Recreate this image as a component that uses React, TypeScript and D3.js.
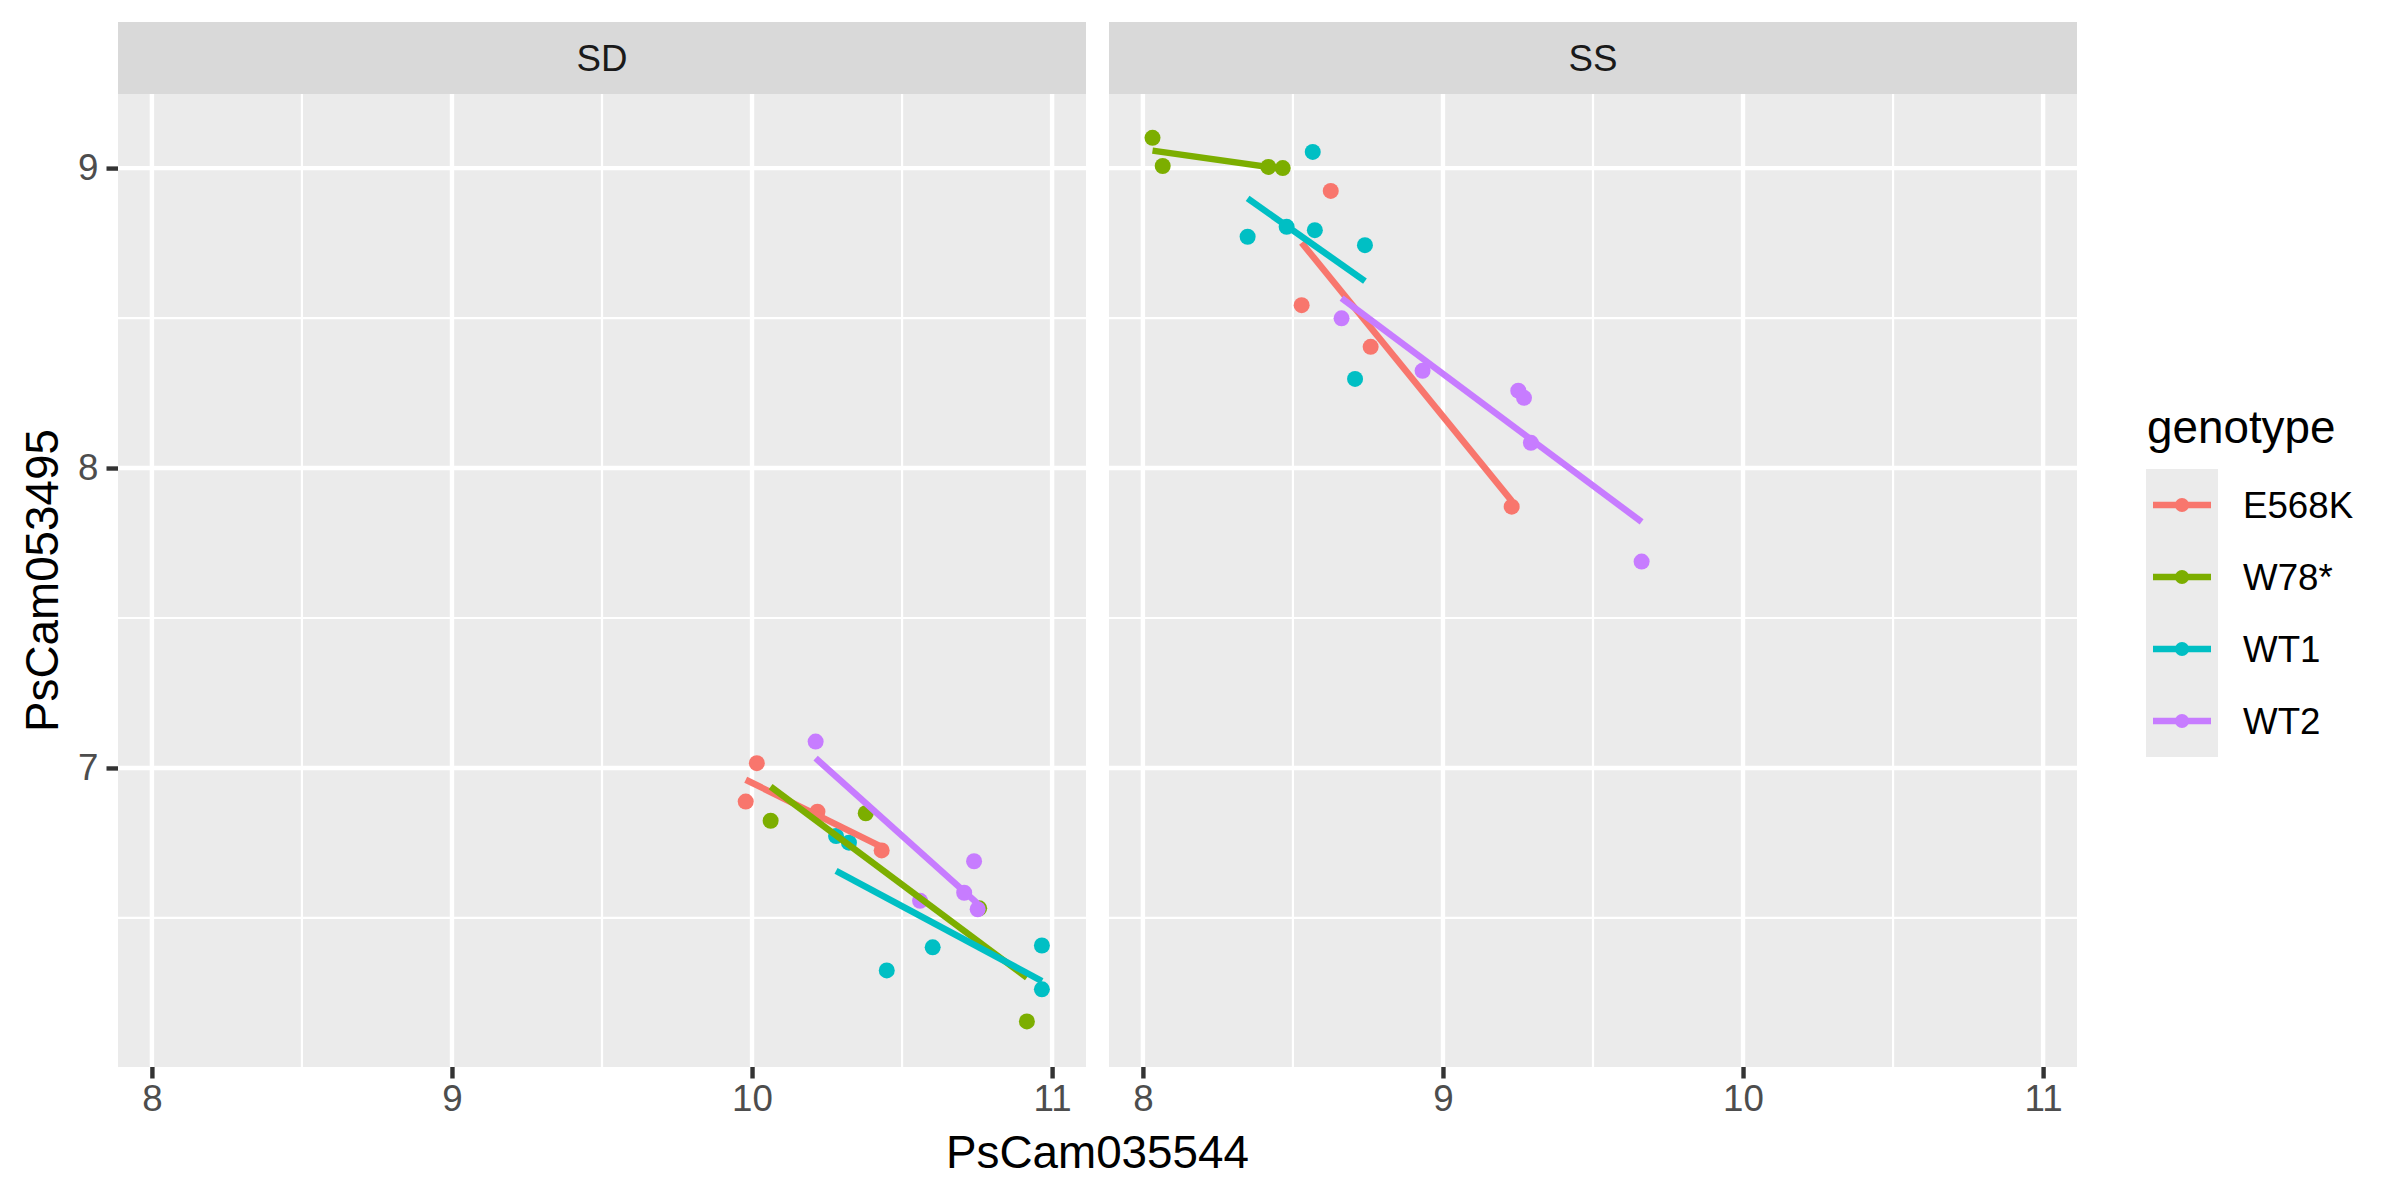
import React, { useEffect, useRef } from "react";
import * as d3 from "d3";

// genotype order and ggplot default hue palette
const genotypes = ["E568K", "W78*", "WT1", "WT2"];
const colors = ["#F8766D", "#7CAE00", "#00BFC4", "#C77CFF"];
const panels = ["SD", "SS"];

const xTicks = [8, 9, 10, 11];
const yTicks = [7, 8, 9];

// PsCam035544 / PsCam053495 pairs
const sdE568K = [[9.979, 6.888], [10.016, 7.016], [10.218, 6.854], [10.432, 6.725]];
const sdW78 = [[10.062, 6.824], [10.379, 6.849], [10.757, 6.532], [10.916, 6.155]];
const sdWT1 = [[10.28, 6.773], [10.323, 6.751], [10.449, 6.325], [10.602, 6.402], [10.966, 6.408], [10.966, 6.262]];
const sdWT2 = [[10.212, 7.088], [10.56, 6.557], [10.707, 6.584], [10.74, 6.689], [10.752, 6.529]];

const ssE568K = [[8.626, 8.924], [8.529, 8.543], [8.759, 8.404], [9.229, 7.871]];
const ssW78 = [[8.032, 9.101], [8.066, 9.007], [8.418, 9.004], [8.466, 9.0]];
const ssWT1 = [[8.566, 9.054], [8.349, 8.771], [8.479, 8.804], [8.573, 8.793], [8.74, 8.743], [8.707, 8.297]];
const ssWT2 = [[8.662, 8.499], [8.932, 8.324], [9.251, 8.258], [9.27, 8.234], [9.293, 8.084], [9.662, 7.688]];

interface IPoint {
  panel: string
  genotype: string
  x: number
  y: number
}

const groups: { [panel: string]: number[][][] } = {
  SD: [sdE568K, sdW78, sdWT1, sdWT2],
  SS: [ssE568K, ssW78, ssWT1, ssWT2],
};

const rows: IPoint[] = [];
panels.forEach(p => groups[p].forEach((pts, gi) => pts.forEach(([x, y]) => rows.push({ panel: p, genotype: genotypes[gi], x, y }))));

// least squares fit, like geom_smooth(method = "lm", se = FALSE)
const fit = (pts: IPoint[]) => {
  const mx = d3.mean(pts, d => d.x) as number;
  const my = d3.mean(pts, d => d.y) as number;
  const sxy = d3.sum(pts, d => (d.x - mx) * (d.y - my));
  const sxx = d3.sum(pts, d => (d.x - mx) * (d.x - mx));
  const b = sxy / sxx;
  const [x0, x1] = d3.extent(pts, d => d.x) as [number, number];
  return [[x0, my + b * (x0 - mx)], [x1, my + b * (x1 - mx)]];
};

const App: React.FC = () => {
  const ref = useRef<SVGSVGElement>(null);

  useEffect(() => {
    document.body.style.margin = "0";
    const svg = d3.select(ref.current);
    svg.selectAll("*").remove();

    const font = "Liberation Sans, Arial, sans-serif";
    const panelW = 968, top = 94, bottom = 1067, stripTop = 22;
    const lefts = [118, 1109];
    const color = d3.scaleOrdinal<string, string>().domain(genotypes).range(colors);

    const y = d3.scaleLinear().domain([6.003, 9.247]).range([bottom, top]);

    panels.forEach((p, pi) => {
      const left = lefts[pi];
      const x = d3.scaleLinear().domain([7.887, 11.113]).range([left, left + panelW]);
      const g = svg.append("g");

      // strip
      g.append("rect").attr("x", left).attr("y", stripTop).attr("width", panelW).attr("height", top - stripTop).attr("fill", "#D9D9D9");
      g.append("text").attr("x", left + panelW / 2).attr("y", (stripTop + top) / 2)
        .attr("text-anchor", "middle").attr("dominant-baseline", "central")
        .style("font-family", font).style("font-size", "36.7px").attr("fill", "#1A1A1A").text(p);

      g.append("rect").attr("x", left).attr("y", top).attr("width", panelW).attr("height", bottom - top).attr("fill", "#EBEBEB");

      // minor grid
      const xMinor = xTicks.slice(0, -1).map(v => v + 0.5);
      const yMinor = [6.5, 7.5, 8.5];
      g.selectAll(".xminor").data(xMinor).enter().append("line")
        .attr("x1", d => x(d)).attr("x2", d => x(d)).attr("y1", top).attr("y2", bottom)
        .attr("stroke", "#fff").attr("stroke-width", 2.2);
      g.selectAll(".yminor").data(yMinor).enter().append("line")
        .attr("x1", left).attr("x2", left + panelW).attr("y1", d => y(d)).attr("y2", d => y(d))
        .attr("stroke", "#fff").attr("stroke-width", 2.2);
      // major grid
      g.selectAll(".xmajor").data(xTicks).enter().append("line")
        .attr("x1", d => x(d)).attr("x2", d => x(d)).attr("y1", top).attr("y2", bottom)
        .attr("stroke", "#fff").attr("stroke-width", 4.4);
      g.selectAll(".ymajor").data(yTicks).enter().append("line")
        .attr("x1", left).attr("x2", left + panelW).attr("y1", d => y(d)).attr("y2", d => y(d))
        .attr("stroke", "#fff").attr("stroke-width", 4.4);

      // x axis
      const xAxis = g.append("g").attr("transform", `translate(0,${bottom})`)
        .call(d3.axisBottom(x).tickValues(xTicks).tickSize(11.5).tickPadding(6).tickFormat(d3.format("d")));
      xAxis.select(".domain").remove();
      xAxis.selectAll(".tick line").attr("stroke", "#333333").attr("stroke-width", 4.4);
      xAxis.selectAll(".tick text").attr("fill", "#4D4D4D").style("font-family", font).style("font-size", "36.7px");

      if (pi === 0) {
        const yAxis = g.append("g").attr("transform", `translate(${left},0)`)
          .call(d3.axisLeft(y).tickValues(yTicks).tickSize(11.5).tickPadding(8).tickFormat(d3.format("d")));
        yAxis.select(".domain").remove();
        yAxis.selectAll(".tick line").attr("stroke", "#333333").attr("stroke-width", 4.4);
        yAxis.selectAll(".tick text").attr("fill", "#4D4D4D").style("font-family", font).style("font-size", "36.7px");
      }

      const pr = rows.filter(d => d.panel === p);
      g.selectAll(".pt").data(pr).enter().append("circle")
        .attr("cx", d => x(d.x)).attr("cy", d => y(d.y)).attr("r", 8)
        .attr("fill", d => color(d.genotype));

      const line = d3.line<number[]>().x(d => x(d[0])).y(d => y(d[1]));
      genotypes.forEach(gt => {
        const pts = pr.filter(d => d.genotype === gt);
        g.append("path").attr("d", line(fit(pts))).attr("fill", "none")
          .attr("stroke", color(gt)).attr("stroke-width", 6.5);
      });
    });

    // axis titles
    svg.append("text").attr("x", (lefts[0] + lefts[1] + panelW) / 2).attr("y", 1168)
      .attr("text-anchor", "middle").style("font-family", font).style("font-size", "45.8px").text("PsCam035544");
    svg.append("text").attr("transform", `translate(58,${(top + bottom) / 2}) rotate(-90)`)
      .attr("text-anchor", "middle").style("font-family", font).style("font-size", "45.8px").text("PsCam053495");

    // legend
    const lg = svg.append("g");
    lg.append("text").attr("x", 2147).attr("y", 443).style("font-family", font).style("font-size", "45.8px").text("genotype");
    const keyY = d3.scaleBand().domain(genotypes).range([469, 757]);
    genotypes.forEach(gt => {
      const ky = keyY(gt) as number, kc = ky + keyY.bandwidth() / 2;
      lg.append("rect").attr("x", 2146).attr("y", ky).attr("width", 72).attr("height", keyY.bandwidth()).attr("fill", "#EBEBEB");
      lg.append("line").attr("x1", 2153).attr("x2", 2211).attr("y1", kc).attr("y2", kc)
        .attr("stroke", color(gt)).attr("stroke-width", 6.5);
      lg.append("circle").attr("cx", 2182).attr("cy", kc).attr("r", 7).attr("fill", color(gt));
      lg.append("text").attr("x", 2243).attr("y", kc).attr("dominant-baseline", "central")
        .style("font-family", font).style("font-size", "36.7px").text(gt);
    });
  }, []);

  return <svg ref={ref} width={2400} height={1200} style={{ display: "block", background: "#fff" }}></svg>;
};

export default App;
